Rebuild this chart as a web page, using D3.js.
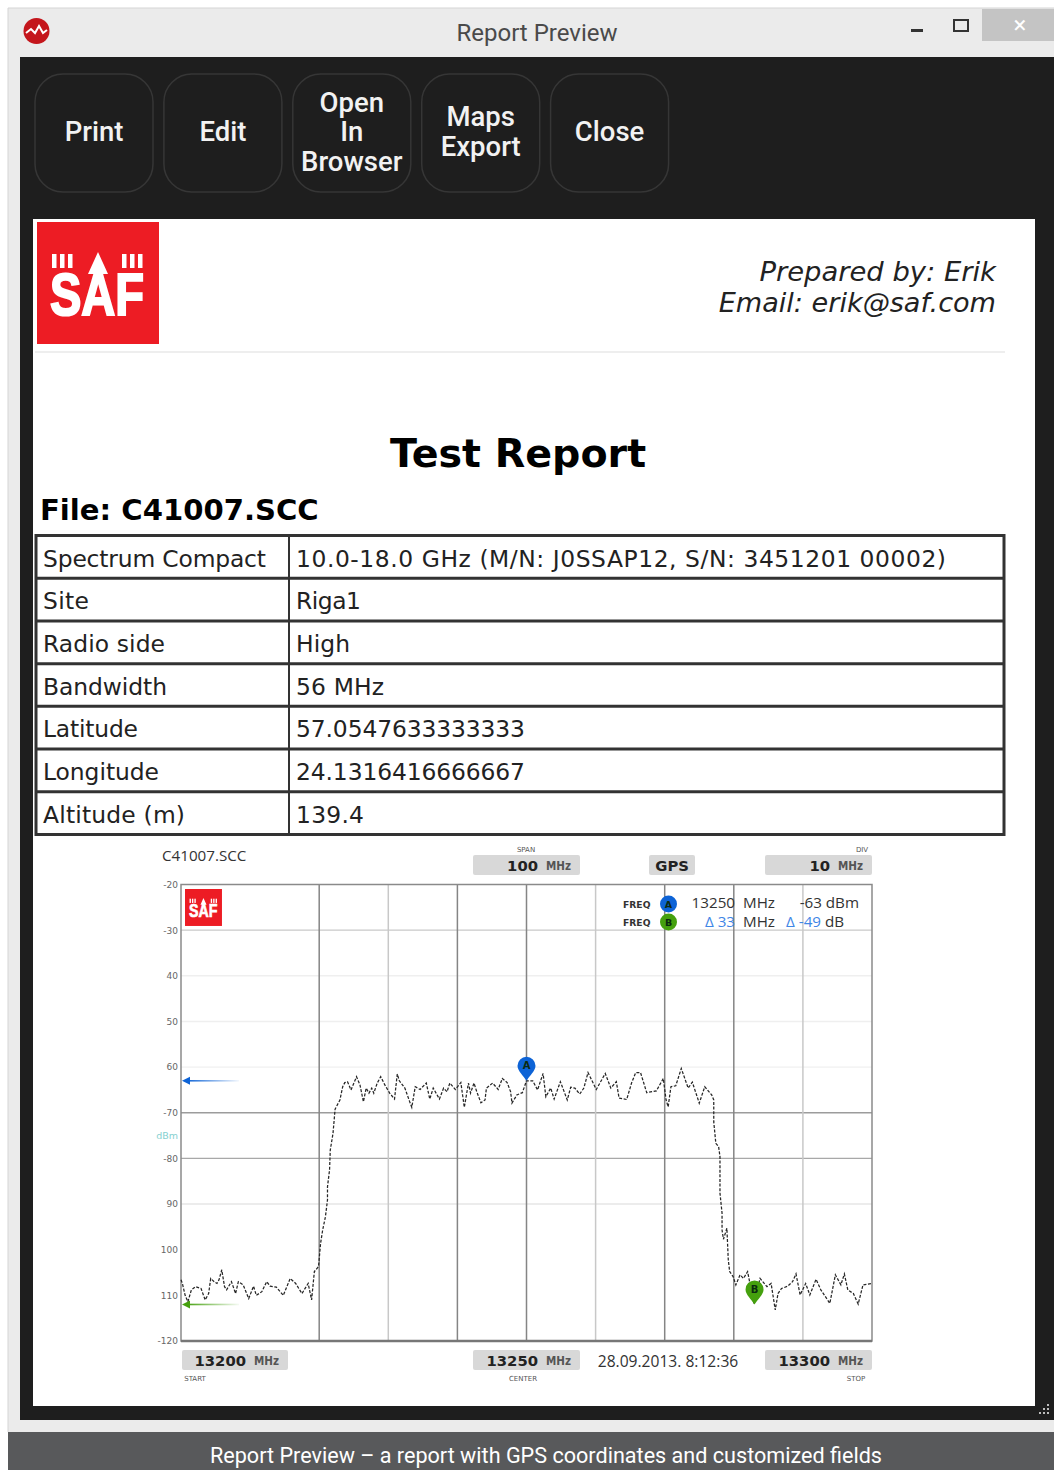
<!DOCTYPE html>
<html><head><meta charset="utf-8">
<script src="https://cdn.jsdelivr.net/npm/d3@7"></script>
<style>html,body{margin:0;padding:0;background:#fff}svg{display:block}</style></head>
<body><div id="c"></div>
<script>
const freqOffsets=[0,0.2,0.6,1,1.5,2.1,2.9,3.5,4,4.3,4.8,5.2,5.5,5.9,6.3,6.6,7.3,7.9,8.3,9,9.8,10.5,10.9,11.7,12.4,12.9,13.8,14.8,15.8,16.6,17.5,18.4,18.9,19.3,19.9,20.2,20.5,20.9,21.2,21.2,21.5,21.6,22,22.3,23,23.4,23.7,24.1,24.6,25.4,25.9,26.4,26.8,27.2,27.6,27.9,28.4,28.9,29.5,30.2,30.9,31.3,31.6,32.4,33.1,33.4,33.9,34.6,35.5,36,36.5,37.4,38,38.5,38.9,39.7,40.5,41,41.6,41.9,42.4,42.8,43.4,44,44.2,45.1,45.9,46.5,47.2,47.7,47.9,48.6,49.4,50,50.9,51.6,52.4,52.8,53.5,54,54.9,55.9,56.4,57,57.7,58.3,58.9,60.1,61.4,62.2,63,63.4,64.5,65.2,65.8,66.5,67.4,68.8,69.8,70.2,70.5,70.9,71.6,72.4,73.4,74,75,75.8,76.8,77.1,77.1,77.4,77.8,78,78,78.3,78.3,78.5,79,79.2,79.4,79.9,80.3,80.9,81.4,82,82.9,83.8,84.8,85.4,86,86.4,86.9,87.8,88.5,89,89.6,90.4,91,91.9,92.6,93.9,94.7,95.5,96,96.5,97.3,98,98.7,100];
const traceDbm=[-106.6,-107.4,-110,-111.4,-108.8,-108.1,-108.5,-111,-109.6,-106.3,-107,-107.4,-106.6,-104.4,-108.1,-108.8,-107,-109.6,-107,-107.7,-110.7,-108,-110,-109.2,-107,-108,-108.2,-110,-106.3,-107.4,-109.6,-107.4,-111,-104.8,-103.7,-98.6,-95.7,-92.8,-89.1,-86.2,-82.5,-78.2,-74.5,-69.2,-67.2,-64.3,-63.4,-63.2,-65,-62.1,-63.9,-67.6,-64.6,-65.7,-64.6,-65.7,-63.5,-62.1,-63.9,-65.7,-67,-61.5,-63,-64.6,-67.6,-68.8,-64.3,-64.9,-63.5,-67,-64.6,-67,-64.6,-65.4,-63.5,-64.9,-63.4,-68.8,-63.5,-65.7,-63.5,-65.4,-67.8,-67.2,-64.6,-63.5,-64.9,-62.5,-63.4,-65.4,-67.9,-66.1,-65.6,-63,-63,-65,-61.4,-66.5,-64.6,-67,-63.2,-67.2,-64.4,-64.6,-65.9,-64.6,-61.2,-64.9,-61.4,-64.6,-63.2,-66.8,-67.1,-63.5,-61.2,-61.2,-65.6,-65.2,-62.5,-67.2,-68.7,-64.3,-64.1,-60.3,-64.6,-63.3,-67.9,-64.3,-66.1,-67.2,-72,-76.7,-77.4,-79.6,-87.6,-92,-95.7,-97.7,-95.3,-102.2,-104.8,-105.9,-107.7,-105.5,-106.3,-104.8,-111.75,-106.3,-108.1,-107.4,-113.2,-109.6,-108.5,-108,-107,-105.3,-109.9,-107.4,-109.9,-106.5,-108.8,-111.75,-105.5,-107.7,-105.3,-108.8,-109.6,-111.9,-107.7,-107.4];
const yTickValues=[-20,-30,-40,-50,-60,-70,-80,-90,-100,-110,-120];
const yTickLabels=["-20","-30","40","50","60","-70","-80","90","100","110","-120"];
const darkFreqs=[13220,13240,13250,13270,13280];
const lightFreqs=[13230,13260,13290];
const hGrid=[[-30,"#c9c9c9"],[-40,"#efefef"],[-50,"#efefef"],[-60,"#f0f0f0"],[-70,"#9c9c9c"],[-80,"#a8a8a8"],[-90,"#e6e6e6"]];
const tableLabels=["Spectrum Compact","Site","Radio side","Bandwidth","Latitude","Longitude","Altitude (m)"];
const tableValues=["10.0-18.0 GHz (M/N: J0SSAP12, S/N: 3451201 00002)","Riga1","High","56 MHz","57.0547633333333","24.1316416666667","139.4"];
const buttonLabels=[["Print"],["Edit"],["Open","In","Browser"],["Maps","Export"],["Close"]];
const markerA={f:13250,dbm:-63}, markerB={f:13283,dbm:-112};

const svg=d3.select("#c").append("svg").attr("width",1054).attr("height",1470);
const R=(x,y,w,h,f,g=svg)=>g.append("rect").attr("x",x).attr("y",y).attr("width",w).attr("height",h).attr("fill",f);
const T=(x,y,s,o={},g=svg)=>g.append("text").attr("x",x).attr("y",y).text(s)
  .attr("font-family",o.ff||"DejaVu Sans").attr("font-size",o.fs||14).attr("font-weight",o.fw||"normal")
  .attr("font-style",o.st||"normal").attr("fill",o.c||"#222").attr("text-anchor",o.a||"start");

// window frame
R(8,8,1046,1424,"#ebebeb");
R(20,57,1034,1363,"#1e1e1e");
R(33,219,1002,1187,"#fff");
svg.append("line").attr("x1",8).attr("x2",1054).attr("y1",8).attr("y2",8).attr("stroke","#d5d5d5");
svg.append("line").attr("x1",8).attr("x2",8).attr("y1",8).attr("y2",1432).attr("stroke","#d5d5d5");
R(8,1432,1046,38,"#58595b");
T(546,1463,"Report Preview – a report with GPS coordinates and customized fields",{ff:"Roboto",fs:21.6,c:"#fff",a:"middle"});
T(537,41,"Report Preview",{ff:"Roboto",fs:24,c:"#4a4a4a",a:"middle"});
svg.append("circle").attr("cx",36.5).attr("cy",31).attr("r",13).attr("fill","#c4161c");
svg.append("path").attr("d","M26 33L31 29L35 33L39 26L43 33L47 30").attr("fill","none").attr("stroke","#fff").attr("stroke-width",2);
R(911,29,12,3,"#333");
svg.append("rect").attr("x",954).attr("y",20).attr("width",14).attr("height",11).attr("fill","none").attr("stroke","#333").attr("stroke-width",2);
R(982,9,72,32,"#c4c4c4");
T(1020,33,"×",{ff:"Roboto",fs:24,c:"#fff",a:"middle"});
[[1047,1404],[1043,1408],[1047,1408],[1039,1412],[1043,1412],[1047,1412]].forEach(d=>R(d[0],d[1],2,2,"#bdbdbd"));

// buttons
buttonLabels.forEach((lines,i)=>{
  const x=35+i*128.9, cx=x+59;
  svg.append("rect").attr("x",x).attr("y",74).attr("width",118).attr("height",118).attr("rx",28)
    .attr("fill","#1e1e1e").attr("stroke","#363636").attr("stroke-width",1.5);
  const t=T(cx,0,"",{ff:"Roboto",fs:27.5,fw:500,c:"#f2f2f2",a:"middle"});
  t.attr("y",null).attr("x",null);
  lines.forEach((l,j)=>t.append("tspan").attr("x",cx).attr("y",141+(j-(lines.length-1)/2)*29.5).text(l));
});

// SAF logo
function logo(x,y,s){
  const g=svg.append("g").attr("transform",`translate(${x},${y}) scale(${s})`);
  R(0,0,122,122,"#ed1c24",g);
  T(60,93,"SAF",{ff:"Liberation Sans",fs:60,fw:"bold",c:"#fff",a:"middle"},g)
    .attr("textLength",94).attr("lengthAdjust","spacingAndGlyphs").attr("stroke","#fff").attr("stroke-width",2.2);
  [[15,32],[85,32]].forEach(p=>[0,8,16].forEach(d=>R(p[0]+d,p[1],4.5,14,"#fff",g)));
  g.append("path").attr("d","M51 52L61 30L71 52Z").attr("fill","#fff");
}
logo(37,222,1);
logo(185,889,0.303);
T(996,281,"Prepared by: Erik",{fs:27.4,st:"italic",a:"end"});
T(996,312,"Email: erik@saf.com",{fs:27.1,st:"italic",a:"end"});
R(35,351,970,2,"#eeeeee");
T(518,466.5,"Test Report",{fs:39.6,fw:"bold",c:"#000",a:"middle"});
T(40,520,"File: C41007.SCC",{fs:29.1,fw:"bold",c:"#000"});

// table
const labelWidths=[223,46,122,124,95,116,142];
const valueWidths=[650,65,54,88,229,229,68];
const rowY=d3.scaleLinear().domain([0,7]).range([535.5,834.5]);
svg.append("rect").attr("x",36).attr("y",535.5).attr("width",968).attr("height",299).attr("fill","none").attr("stroke","#333").attr("stroke-width",3);
d3.range(1,7).forEach(i=>svg.append("line").attr("x1",36).attr("x2",1004).attr("y1",rowY(i)).attr("y2",rowY(i)).attr("stroke","#333").attr("stroke-width",3));
svg.append("line").attr("x1",289).attr("x2",289).attr("y1",535).attr("y2",835).attr("stroke","#333").attr("stroke-width",2);
tableLabels.forEach((l,i)=>{
  T(43,rowY(i)+31,l,{fs:23.4,c:"#222"}).attr("textLength",labelWidths[i]).attr("lengthAdjust","spacing");
  T(296,rowY(i)+31,tableValues[i],{fs:23.4,c:"#222"}).attr("textLength",valueWidths[i]).attr("lengthAdjust","spacing");
});

// chart
const x=d3.scaleLinear().domain([13200,13300]).range([181,872]);
const y=d3.scaleLinear().domain([-20,-120]).range([884.5,1341]);
const chart=svg.append("g");
hGrid.forEach(([v,c])=>chart.append("line").attr("x1",181).attr("x2",872).attr("y1",y(v)).attr("y2",y(v)).attr("stroke",c).attr("stroke-width",1.4));
lightFreqs.forEach(f=>chart.append("line").attr("x1",x(f)).attr("x2",x(f)).attr("y1",884).attr("y2",1341).attr("stroke","#c8c8c8").attr("stroke-width",1.5));
darkFreqs.forEach(f=>chart.append("line").attr("x1",x(f)).attr("x2",x(f)).attr("y1",884).attr("y2",1341).attr("stroke","#858585").attr("stroke-width",1.5));
chart.append("path").attr("d",`M181 884.5H872V1341H181Z`).attr("fill","none").attr("stroke","#8a8a8a").attr("stroke-width",1.5);
chart.append("line").attr("x1",181).attr("x2",872).attr("y1",1341).attr("y2",1341).attr("stroke","#777").attr("stroke-width",2.5);

const yAxis=d3.axisLeft(y).tickValues(yTickValues).tickSize(0).tickPadding(3)
  .tickFormat(d=>yTickLabels[yTickValues.indexOf(d)]);
const ag=chart.append("g").attr("transform","translate(181,0)").call(yAxis);
ag.select(".domain").remove();
ag.selectAll("text").attr("font-family","DejaVu Sans").attr("font-size",9).attr("fill","#666");
T(178,1139,"dBm",{fs:9.5,c:"#86d0d0",a:"end"});

// trace
const line=d3.line().x((d,i)=>x(13200+freqOffsets[i])).y(d=>y(d));
chart.append("path").attr("d",line(traceDbm)).attr("fill","none").attr("stroke","#262626").attr("stroke-width",1.25).attr("stroke-dasharray","3 1.6");

// arrows
const defs=svg.append("defs");
[["gA","#0d63d6"],["gB","#45a00e"]].forEach(([id,c])=>{
  const g=defs.append("linearGradient").attr("id",id);
  g.append("stop").attr("offset",0).attr("stop-color",c);
  g.append("stop").attr("offset",1).attr("stop-color",c).attr("stop-opacity",0.05);
});
[[markerA,"gA","#0d63d6"],[markerB,"gB","#45a00e"]].forEach(([m,id,c])=>{
  const py=y(m.dbm);
  R(186,py-0.8,53,1.6,`url(#${id})`,chart);
  chart.append("path").attr("d",`M182 ${py}l8 -4v8Z`).attr("fill",c);
});

// pins
function pin(cx,tip,c,l){
  const cy=tip-15;
  chart.append("path").attr("d",`M${cx} ${tip}C${cx-3} ${tip-5} ${cx-9} ${cy+5} ${cx-9} ${cy}A9 9 0 1 1 ${cx+9} ${cy}C${cx+9} ${cy+5} ${cx+3} ${tip-5} ${cx} ${tip}Z`).attr("fill",c);
  T(cx,cy+3.5,l,{fs:10,fw:"bold",c:"#0b2a10",a:"middle"},chart);
}
pin(x(markerA.f),y(markerA.dbm),"#0d63d6","A");
pin(x(markerB.f),y(markerB.dbm),"#45a00e","B");

// chips
function chip(x0,w,yy,val,unit,valEnd){
  svg.append("rect").attr("x",x0).attr("y",yy).attr("width",w).attr("height",20).attr("rx",2).attr("fill","#d8d8d8");
  T(valEnd,yy+15.5,val,{fs:14.8,fw:"bold",c:"#222",a:"end"});
  if(unit)T(x0+w-9,yy+15,unit,{fs:11.5,c:"#555",a:"end",fw:"bold"}).attr("textLength",25).attr("lengthAdjust","spacingAndGlyphs");
}
chip(473,107,855,"100","MHz",538);
chip(649,46,855,"GPS","",689);
chip(765,107,855,"10","MHz",830);
chip(182,106,1350,"13200","MHz",246);
chip(473,107,1350,"13250","MHz",538);
chip(765,107,1350,"13300","MHz",830);
const small={fs:7,c:"#555"};
T(526,852,"SPAN",{...small,a:"middle"});
T(862,852,"DIV",{...small,a:"middle"});
T(195,1381,"START",{...small,a:"middle"});
T(523,1381,"CENTER",{...small,a:"middle"});
T(856,1381,"STOP",{...small,a:"middle"});
T(162,861,"C41007.SCC",{ff:"Open Sans",fs:15.2,c:"#333"});
T(668,1367,"28.09.2013. 8:12:36",{ff:"Open Sans",fs:15.6,c:"#333",a:"middle"});

// marker legend
[[904,"A","#0d63d6"],[922,"B","#45a00e"]].forEach(([py,l,c])=>{
  T(623,py+4,"FREQ",{fs:9.2,fw:"bold",c:"#333"});
  svg.append("circle").attr("cx",668.5).attr("cy",py).attr("r",8.5).attr("fill",c);
  T(668.5,py+3.5,l,{fs:9.5,fw:"bold",c:"#0b2a10",a:"middle"});
});
const lg={ff:"Open Sans",fs:15.2,c:"#333"};
T(735,908,"13250",{...lg,a:"end"});
T(743,908,"MHz",lg);
T(859,908,"-63 dBm",{...lg,a:"end"});
T(735,927,"Δ 33",{...lg,c:"#3f86e6",a:"end"});
T(743,927,"MHz",lg);
T(786,927,"Δ -49",{...lg,c:"#3f86e6"});
T(825,927,"dB",lg);
</script></body></html>
